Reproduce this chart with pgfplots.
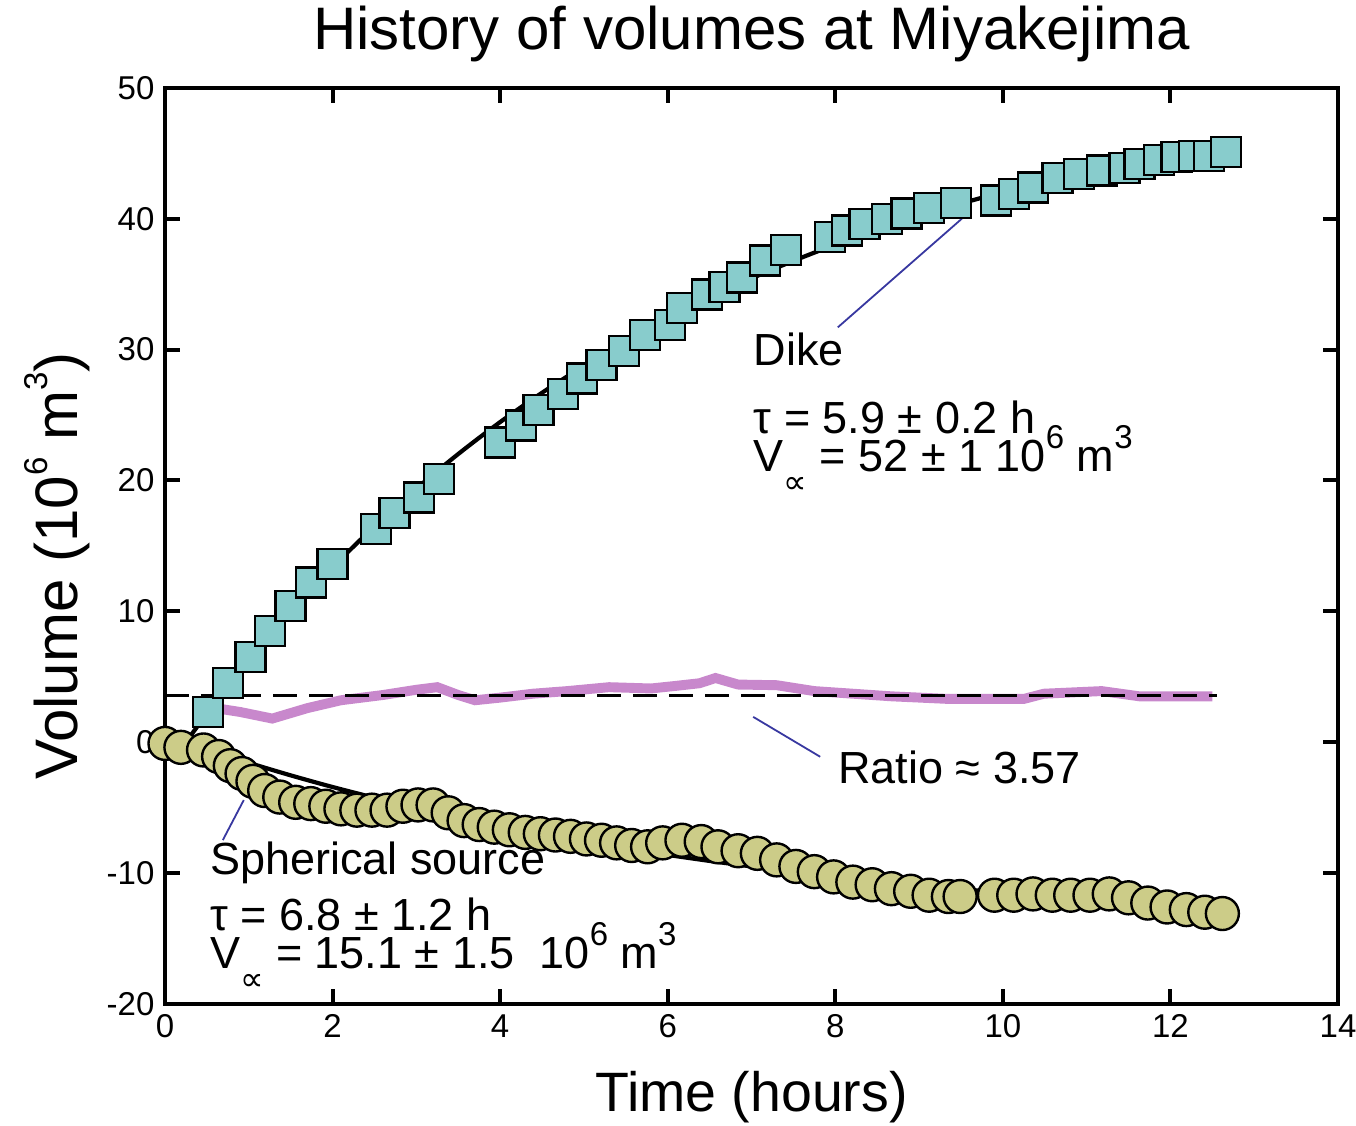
\documentclass[border=0pt]{standalone}
\usepackage{fontspec}
\setmainfont{Liberation Sans}
\newfontfamily\dejavu{DejaVu Sans}
\usepackage{pgfplots}
\pgfplotsset{compat=1.18}
\definecolor{dikefill}{HTML}{88CCCC}
\definecolor{sphfill}{HTML}{CCCC88}
\definecolor{ratiocol}{HTML}{C888CC}
\definecolor{leader}{HTML}{3838A0}
\newcommand{\sups}[1]{\raisebox{0.5em}{\fontsize{11}{11}\selectfont #1}}
\newcommand{\subinf}{\raisebox{-0.5em}{\fontsize{11}{11}\selectfont\dejavu ∝}}
\newcommand{\twolines}[2]{\rlap{\raisebox{12.6pt}{#1}}#2}
\begin{document}
\begin{tikzpicture}
\path[use as bounding box] (-55pt,-40.7pt) rectangle (397pt,334.6pt);
\begin{axis}[
  at={(0,0)}, anchor=south west,
  scale only axis, width=391pt, height=305.3pt,
  xmin=0, xmax=14, ymin=-20, ymax=50,
  xtick={0,2,...,14}, ytick={-20,-10,...,50},
  tick align=inside, major tick length=5pt,
  axis line style={line width=1.3pt},
  every tick/.style={black, line width=1.3pt},
  tick label style={font=\fontsize{11}{11}\selectfont},
  /pgf/number format/assume math mode=true,
  xlabel={Time (hours)},
  ylabel={Volume (10\sups{6} m\sups{3})},
  xlabel style={font=\fontsize{18.5}{18.5}\selectfont, at={(rel axis cs:0.5,-0.1015)}, anchor=center},
  ylabel style={font=\fontsize{20}{20}\selectfont, at={(rel axis cs:-0.092,0.478)}, anchor=center},
  title={History of volumes at Miyakejima},
  title style={font=\fontsize{20}{20}\selectfont, at={(rel axis cs:0.5,1)}, anchor=base, yshift=6.7pt},
  clip=false,
]
% ratio
\addplot[ratiocol, line width=3.3pt] coordinates {
(0.60,2.6) (0.90,2.3) (1.28,1.8) (1.70,2.6) (2.10,3.2) (2.60,3.6) (3.00,4.0)
(3.25,4.2) (3.50,3.6) (3.70,3.2) (4.00,3.4) (4.39,3.7) (4.80,3.9) (5.30,4.2)
(5.80,4.1) (6.10,4.3) (6.38,4.5) (6.57,4.9) (6.84,4.4) (7.30,4.35) (7.75,3.9)
(8.21,3.7) (8.67,3.5) (9.35,3.3) (10.25,3.3) (10.49,3.7) (11.18,3.9) (11.63,3.5)
(12.09,3.5) (12.50,3.5)
};
\addplot[black, line width=1pt, dash pattern=on 8pt off 4pt] coordinates {(0,3.57) (12.55,3.57)};
% dike
\addplot[only marks, mark=square*, mark size=5pt, mark options={fill=dikefill, draw=black, line width=0.8pt}] coordinates {
(0.51,2.3) (0.75,4.5) (1.02,6.5) (1.25,8.5) (1.50,10.4) (1.74,12.2) (2.00,13.6)
(2.52,16.3) (2.74,17.5) (3.03,18.7) (3.27,20.1) (4.00,22.9) (4.25,24.2) (4.46,25.4)
(4.75,26.6) (4.98,27.8) (5.21,28.8) (5.48,29.9) (5.73,31.1) (6.03,31.9) (6.17,33.2)
(6.47,34.2) (6.68,34.8) (6.89,35.5) (7.16,36.8) (7.41,37.6) (7.94,38.6) (8.14,39.1)
(8.35,39.6) (8.62,40.0) (8.85,40.4) (9.12,40.8) (9.44,41.2) (9.92,41.4) (10.13,41.9)
(10.36,42.4) (10.65,43.1) (10.91,43.4) (11.18,43.7) (11.45,43.9) (11.63,44.2)
(11.86,44.5) (12.07,44.7) (12.28,44.8) (12.46,44.8) (12.66,45.1)
};
\addplot[black, line width=1.4pt, smooth] coordinates {
(0.25,0) (0.5,2.16) (1,6.21) (1.5,9.93) (2,13.35) (2.5,16.49) (3,19.37) (3.5,22.02)
(4,24.46) (4.5,26.70) (5,28.75) (5.5,30.64) (6,32.38) (6.5,33.97) (7,35.44) (7.5,36.78)
(8,38.02) (8.5,39.16) (9,40.20) (9.5,41.16) (10,42.04) (10.5,42.85) (11,43.59)
(11.5,44.27) (12,44.90) (12.5,45.48) (12.7,45.70)
};
% spherical source
\addplot[only marks, mark=*, mark size=5.5pt, mark options={fill=sphfill, draw=black, line width=0.8pt}] coordinates {
(0,-0.1) (0.19,-0.4) (0.46,-0.6) (0.64,-1.1) (0.78,-1.8) (0.92,-2.4) (1.05,-3.0)
(1.19,-3.7) (1.37,-4.2) (1.56,-4.6) (1.74,-4.7) (1.92,-4.9) (2.10,-5.1) (2.29,-5.2)
(2.47,-5.2) (2.65,-5.2) (2.84,-4.9) (3.02,-4.8) (3.20,-4.8) (3.38,-5.4) (3.57,-6.0)
(3.75,-6.3) (3.93,-6.5) (4.11,-6.7) (4.30,-6.9) (4.48,-7.0) (4.66,-7.1) (4.84,-7.2)
(5.03,-7.4) (5.21,-7.5) (5.39,-7.7) (5.57,-7.9) (5.76,-8.0) (5.94,-7.7) (6.17,-7.5)
(6.40,-7.6) (6.60,-8.0) (6.84,-8.3) (7.07,-8.5) (7.30,-9.0) (7.53,-9.5) (7.75,-9.9)
(7.98,-10.3) (8.21,-10.7) (8.44,-10.9) (8.67,-11.2) (8.90,-11.4) (9.12,-11.7)
(9.35,-11.8) (9.49,-11.8) (9.90,-11.7) (10.13,-11.7) (10.36,-11.6) (10.59,-11.7)
(10.81,-11.7) (11.04,-11.7) (11.27,-11.6) (11.50,-11.9) (11.73,-12.3) (11.96,-12.6)
(12.19,-12.8) (12.41,-13.0) (12.62,-13.1)
};
\addplot[black, line width=1.4pt, smooth] coordinates {
(0.25,0) (0.5,-0.55) (1,-1.58) (1.5,-2.54) (2,-3.43) (2.5,-4.25) (3,-5.02) (3.5,-5.74)
(4,-6.40) (4.5,-7.02) (5,-7.59) (5.5,-8.12) (6,-8.62) (6.5,-9.08) (7,-9.50) (7.5,-9.90)
(8,-10.27) (8.5,-10.61) (9,-10.93) (9.5,-11.23) (10,-11.50) (10.5,-11.76) (11,-11.99)
(11.5,-12.21) (12,-12.42) (12.5,-12.61) (12.7,-12.68)
};
% leader lines
\draw[leader, line width=0.6pt] (axis cs:8.03,31.7) -- (axis cs:9.51,40.0);
\draw[leader, line width=0.6pt] (axis cs:7.02,1.93) -- (axis cs:7.82,-1.12);
\draw[leader, line width=0.6pt] (axis cs:0.94,-4.43) -- (axis cs:0.69,-7.49);
% annotations
\begin{scope}[every node/.style={anchor=base west, inner sep=0pt, font=\fontsize{15}{15}\selectfont}]
\node at (axis cs:7.02,28.8) {Dike};
\node at (axis cs:7.02,20.7) {\twolines{τ = 5.9 ± 0.2 h}{V\subinf\ = 52 ± 1 10\sups{6} m\sups{3}}};
\node at (axis cs:8.03,-3.16) {Ratio ≈ 3.57};
\node at (axis cs:0.53,-10.1) {Spherical source};
\node at (axis cs:0.53,-17.3) {\twolines{τ = 6.8 ± 1.2 h}{V\subinf\ = 15.1 ± 1.5 \ 10\sups{6} m\sups{3}}};
\end{scope}
\end{axis}
\end{tikzpicture}
\end{document}
